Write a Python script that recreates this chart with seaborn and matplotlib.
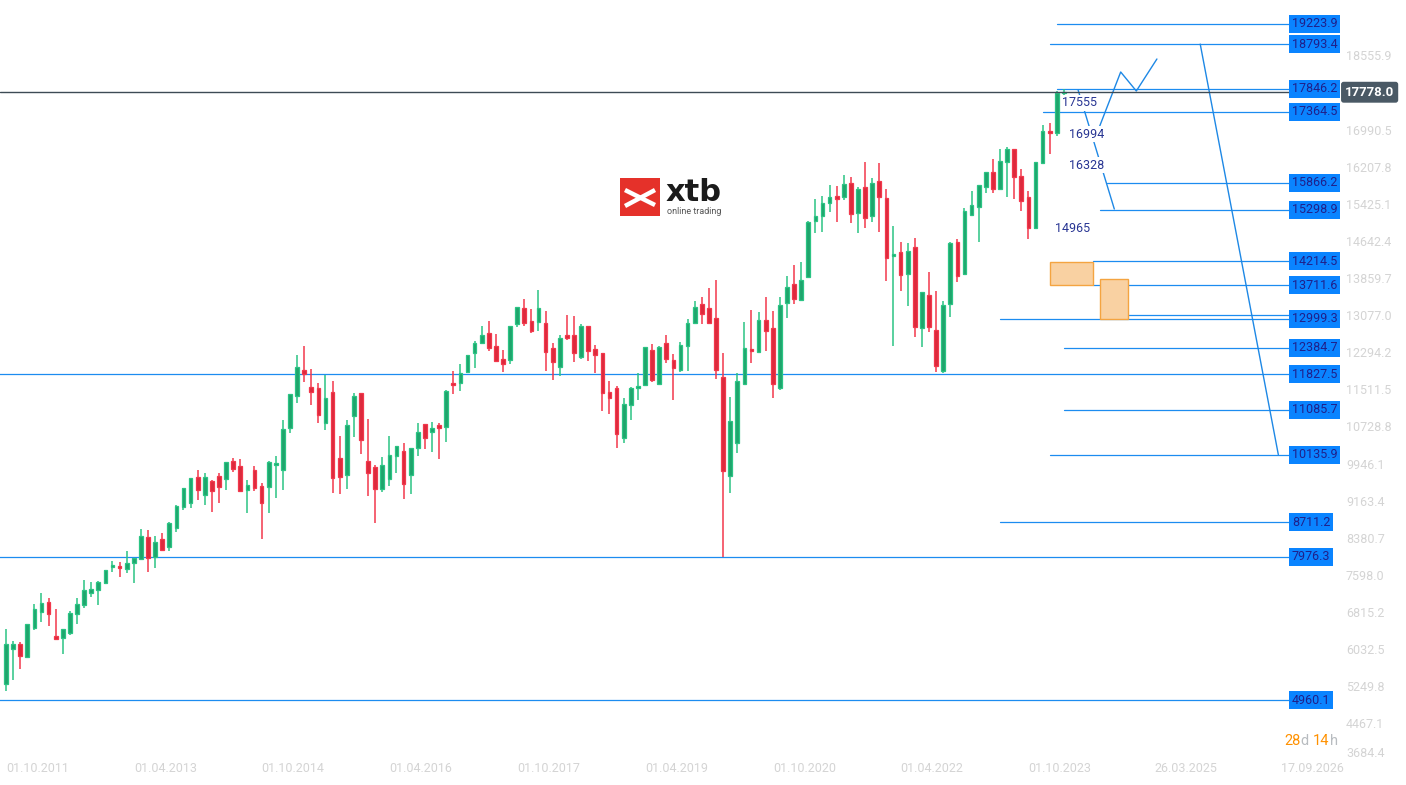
import numpy as np
import pandas as pd
import matplotlib
matplotlib.use("Agg")
import matplotlib.pyplot as plt
import matplotlib.transforms as mtransforms
from matplotlib.patches import Rectangle
from matplotlib.lines import Line2D
import seaborn as sns

# Monthly candles, one per month from Oct 2011 (index 0) to Mar 2024 (index 149).
opens = [5290, 6030, 6135, 5874, 6472, 6822, 7021, 6310, 6262, 6380,
         6767, 6957, 7210, 7274, 7422, 7759, 7793, 7729, 7843, 7928,
         8391, 7970, 8349, 8180, 8594, 9037, 9121, 9663, 9290, 9573,
         9678, 9627, 9994, 9889, 9395, 9805, 9467, 9446, 9910, 9805,
         10690, 11378, 11914, 11555, 11534, 10796, 11450, 10058, 9699, 10956,
         11428, 9994, 9868, 9416, 9615, 10100, 10205, 9712, 10269, 10775,
         10606, 10754, 10711, 11639, 11639, 11871, 12272, 12483, 12694, 12420,
         12146, 12124, 12884, 13231, 12957, 12926, 12914, 12383, 11977, 12652,
         12652, 12188, 12842, 12356, 12272, 11450, 11534, 10479, 11175, 11534,
         11598, 12335, 11619, 12483, 12124, 11914, 12420, 12917, 13306, 13227,
         13017, 11766, 9684, 10374, 11625, 12356, 12293, 12968, 12799, 11534,
         13326, 13727, 13396, 13881, 15062, 15170, 15448, 15590, 15577, 15857,
         15237, 15779, 15174, 15906, 15541, 14324, 14402, 13945, 14514, 12799,
         13495, 12763, 11892, 13305, 14619, 13938, 15195, 15351, 15773, 16089,
         15745, 16300, 16575, 16005, 15562, 14910, 16279, 16960, 16912, 17760]
highs = [6457, 6204, 6177, 6570, 6985, 7217, 7111, 6879, 6460, 6844,
         7111, 7491, 7449, 7460, 7710, 7892, 7870, 8102, 7955, 8567,
         8546, 8425, 8482, 8720, 9073, 9430, 9640, 9811, 9741, 9600,
         9741, 9980, 10064, 10043, 9600, 9895, 9530, 10000, 10106, 10865,
         11410, 12236, 12426, 11941, 11639, 11821, 11681, 10522, 10865, 11428,
         11435, 10886, 9916, 10085, 10528, 10315, 10380, 10275, 10796, 10780,
         10823, 10796, 11498, 11899, 12046, 12240, 12532, 12848, 12953, 12679,
         12341, 12845, 13245, 13421, 13210, 13607, 13168, 12490, 12658, 13083,
         13062, 12890, 12845, 12448, 12275, 11688, 11582, 11323, 11555, 11850,
         12400, 12462, 12420, 12658, 12257, 12504, 12996, 13377, 13459, 13656,
         13818, 12285, 11355, 11850, 12938, 13189, 13133, 13459, 13164, 13459,
         13902, 14128, 14191, 15060, 15520, 15580, 15822, 15800, 16032, 15990,
         15786, 16306, 15969, 16285, 15737, 14963, 14619, 14598, 14704, 13570,
         13980, 13586, 13369, 14610, 14683, 15336, 15695, 15820, 16100, 16370,
         16581, 16629, 16580, 16159, 15695, 16310, 17087, 17129, 17800, 17840]
lows = [5156, 5382, 5620, 5860, 6430, 6612, 6521, 6226, 5937, 6331,
        6570, 6907, 7139, 6970, 7410, 7653, 7561, 7645, 7434, 7920,
        7666, 7750, 8110, 8109, 8510, 8967, 9003, 9178, 9073, 8925,
        9115, 9389, 9775, 9370, 8910, 9374, 8356, 8910, 9227, 9389,
        10585, 11217, 11673, 11182, 10808, 10661, 9332, 9311, 9416, 10513,
        10142, 9269, 8699, 9347, 9480, 9754, 9206, 9311, 10113, 10260,
        10197, 10049, 10408, 11420, 11483, 11860, 11969, 12462, 12328, 12100,
        11884, 12053, 12833, 12854, 12690, 12749, 11905, 11716, 11800, 12552,
        12095, 12146, 12116, 11863, 11061, 10996, 10281, 10386, 10865, 11287,
        11590, 11673, 11615, 12061, 11280, 11884, 11900, 12915, 12890, 12904,
        11736, 7983, 9320, 10176, 11620, 12074, 12290, 12321, 11336, 11498,
        13023, 13318, 13390, 13870, 14816, 14840, 15259, 15048, 15505, 15014,
        14816, 14921, 15048, 14837, 13803, 12432, 13592, 13276, 12610, 12398,
        12715, 11878, 11850, 13044, 13782, 13917, 15174, 14626, 15646, 15659,
        15716, 15575, 15535, 15280, 14689, 14889, 16270, 16482, 16861, 17720]
closes = [6141, 6150, 5894, 6557, 6873, 6999, 6780, 6253, 6451, 6789,
          6978, 7274, 7301, 7449, 7702, 7801, 7738, 7843, 7948, 8419,
          7948, 8286, 8117, 8687, 9052, 9425, 9636, 9395, 9657, 9374,
          9459, 9973, 9838, 9374, 9494, 9437, 9109, 9973, 9952, 10669,
          11407, 11977, 11842, 11450, 10977, 11323, 9636, 9657, 10753, 11372,
          10450, 9754, 9404, 9910, 10121, 10311, 9509, 10269, 10606, 10492,
          10697, 10690, 11470, 11597, 11850, 12230, 12483, 12652, 12378, 12103,
          12053, 12842, 13243, 12921, 12732, 13221, 12309, 12082, 12589, 12601,
          12272, 12842, 12327, 12242, 11429, 11323, 10564, 11196, 11534, 11576,
          12398, 11703, 12398, 12146, 11956, 12441, 12905, 13249, 13107, 12917,
          11914, 9796, 10844, 11688, 12378, 12314, 12968, 12736, 11619, 13284,
          13677, 13417, 13811, 15047, 15161, 15440, 15562, 15533, 15836, 15203,
          15737, 15119, 15857, 15562, 14275, 14366, 13923, 14423, 12820, 13559,
          12820, 12004, 13284, 14598, 13895, 15267, 15393, 15815, 16089, 15731,
          16323, 16575, 15984, 15478, 14910, 16300, 16954, 16912, 17760, 17778]

last_price = 17778.0

# Date axis (month index counted from Oct 2011).
date_pos = [0, 18, 36, 54, 72, 90, 108, 126, 144, 161.8, 179.6]
date_labels = ["01.10.2011", "01.04.2013", "01.10.2014", "01.04.2016",
               "01.10.2017", "01.04.2019", "01.10.2020", "01.04.2022",
               "01.10.2023", "26.03.2025", "17.09.2026"]

# Price axis ticks.
price_ticks = [3684.4, 4467.1, 5249.8, 6032.5, 6815.2, 7598.0, 8380.7,
               9163.4, 9946.1, 10728.8, 11511.5, 12294.2, 13077.0, 13859.7,
               14642.4, 15425.1, 16207.8, 16990.5, 18555.9]

# Support / resistance levels and where each line starts.
level_values = [19223.9, 18793.4, 17846.2, 17364.5, 15866.2, 15298.9,
                14214.5, 13711.6, 12999.3, 12384.7, 11827.5, 11085.7,
                10135.9, 8711.2, 7976.3, 4960.1]
level_starts = [148.0, 147.0, 148.0, 146.0, 155.1, 154.1, 153.1, 153.1,
                140.0, 149.0, -1.0, 149.0, 147.0, 140.0, -1.0, -1.0]
level_end = 180.85
extra_level = 13075
extra_start = 157.0

# Orange zones.
zone_left = [147.0, 154.1]
zone_right = [153.1, 158.0]
zone_low = [13711.6, 13000]
zone_high = [14195, 13840]

# Projected paths.
path_a_x = [151.0, 156.1]
path_a_y = [17825, 15315]
path_b_x = [153.5, 157.0, 159.2, 162.1]
path_b_y = [16855, 18205, 17804, 18479]
path_c_x = [168.2, 179.2]
path_c_y = [18793.4, 10135.9]

# Target labels.
target_text = ["17555", "16994", "16328", "14965"]
target_x = [148.7, 149.7, 149.7, 147.7]
target_y = [17551, 16897, 16243, 14894]

sns.set_theme(style="white")
plt.rcParams["font.family"] = ["Roboto", "DejaVu Sans"]

W, H = 1406, 785
fig = plt.figure(figsize=(W / 100, H / 100), dpi=100)
fig.patch.set_facecolor("white")
ax = fig.add_axes([0, 23 / H, 1340 / W, 762 / H])
ax.set_facecolor("white")

df = pd.DataFrame({"open": opens, "high": highs, "low": lows, "close": closes})
df["i"] = np.arange(len(df))
up = df["close"] >= df["open"]

green_fill, green_edge = "#1fa46c", "#2bc484"
red_fill, red_edge = "#dc2a3c", "#f2384c"

# Wicks.
ax.vlines(df["i"], df["low"], df["high"],
          colors=np.where(up, green_edge, red_edge), linewidth=1.1, zorder=3)

# Bodies.
body = np.maximum((df["close"] - df["open"]).abs(), 30)
ax.bar(df["i"], body, bottom=np.minimum(df["open"], df["close"]), width=0.52,
       color=np.where(up, green_fill, red_fill),
       edgecolor=np.where(up, green_edge, red_edge), linewidth=0.9, zorder=4)

# Levels with labels.
line_blue = "#1c8cf0"
for val, start in zip(level_values, level_starts):
    ax.plot([start, level_end], [val, val], color=line_blue, lw=0.9, zorder=2)
    ax.text(level_end + 0.25, val, f"{val:.1f}", ha="left", va="center",
            fontsize=9, color="#20208a", zorder=6,
            bbox=dict(boxstyle="square,pad=0.2", fc="#0a84ff", ec="none"))
ax.plot([extra_start, level_end], [extra_level, extra_level], color=line_blue,
        lw=0.9, zorder=2)

# Orange zones.
for x0, x1, y0, y1 in zip(zone_left, zone_right, zone_low, zone_high):
    ax.add_patch(Rectangle((x0, y0), x1 - x0, y1 - y0, facecolor="#f9d1a2",
                           edgecolor="#f4a441", lw=1.0, zorder=3))

# Projected paths.
sns.lineplot(x=path_a_x, y=path_a_y, sort=False, color="#1e88e5", lw=1,
             ax=ax, zorder=3)
sns.lineplot(x=path_b_x, y=path_b_y, sort=False, color="#1e88e5", lw=1,
             ax=ax, zorder=3)
sns.lineplot(x=path_c_x, y=path_c_y, sort=False, color="#1e88e5", lw=1,
             ax=ax, zorder=3)

for txt, tx, ty in zip(target_text, target_x, target_y):
    ax.text(tx, ty, txt, ha="left", va="center", fontsize=9, color="#283593",
            zorder=7, bbox=dict(boxstyle="square,pad=0.1", fc="white",
                                ec="none"))

# Current price line and label.
ax.axhline(last_price, color="#3d4b55", lw=1, zorder=5)
trans = mtransforms.blended_transform_factory(ax.transAxes, ax.transData)
trans = mtransforms.offset_copy(trans, fig=fig, x=5, y=0, units="dots")
ax.text(1.0, last_price, f"{last_price:.1f}", transform=trans, ha="left",
        va="center", fontsize=9.5, fontweight="bold", color="white",
        clip_on=False, zorder=10,
        bbox=dict(boxstyle="round,pad=0.3,rounding_size=0.2", fc="#4a5965",
                  ec="none"))

# Axes.
ax.set_xlim(-0.845, (1340 - 6) / 7.1)
ax.set_ylim(17846.2 - 21.09 * (762 - 89), 17846.2 + 21.09 * 89)
ax.yaxis.tick_right()
ax.set_yticks(price_ticks)
ax.set_yticklabels([f"{t:.1f}" for t in price_ticks])
ax.tick_params(axis="y", length=0, pad=4.3, labelsize=9, labelcolor="#d4d4d4")
ax.get_yticklabels()[0].set_va("bottom")
ax.set_xticks(date_pos)
ax.set_xticklabels(date_labels)
ax.tick_params(axis="x", length=0, pad=0, labelsize=9, labelcolor="#d4d4d4")
for lab in ax.get_xticklabels():
    lab.set_ha("left")
for sp in ax.spines.values():
    sp.set_visible(False)
ax.grid(False)


def fx(px):
    return px / W


def fy(py):
    return 1 - py / H


# xtb logo.
fig.patches.append(Rectangle((fx(620), fy(216)), 40 / W, 38 / H,
                             transform=fig.transFigure, facecolor="#e5312a",
                             edgecolor="none", zorder=5))
for (x0, y0), (x1, y1) in [((625, 190), (655, 205)), ((625, 206), (655, 190))]:
    fig.lines.append(Line2D([fx(x0), fx(x1)], [fy(y0), fy(y1)], color="white",
                            lw=3.2, solid_capstyle="butt",
                            transform=fig.transFigure, zorder=6))
fig.text(fx(666), fy(201), "xtb", ha="left", va="baseline", fontsize=22,
         fontweight="bold", color="#1b1b1b", family="DejaVu Sans")
fig.text(fx(667), fy(211), "online trading", ha="left", va="center",
         fontsize=6.5, color="#555555")

# Countdown.
for piece, px, col in [("28", 1284, "#ff9100"), ("d", 1300, "#b8bcc0"),
                       ("14", 1313, "#ff9100"), ("h", 1330, "#b8bcc0")]:
    fig.text(fx(px), fy(741), piece, ha="left", va="center", fontsize=10.5,
             color=col)

fig.savefig("out.png", dpi=100, facecolor="white")
